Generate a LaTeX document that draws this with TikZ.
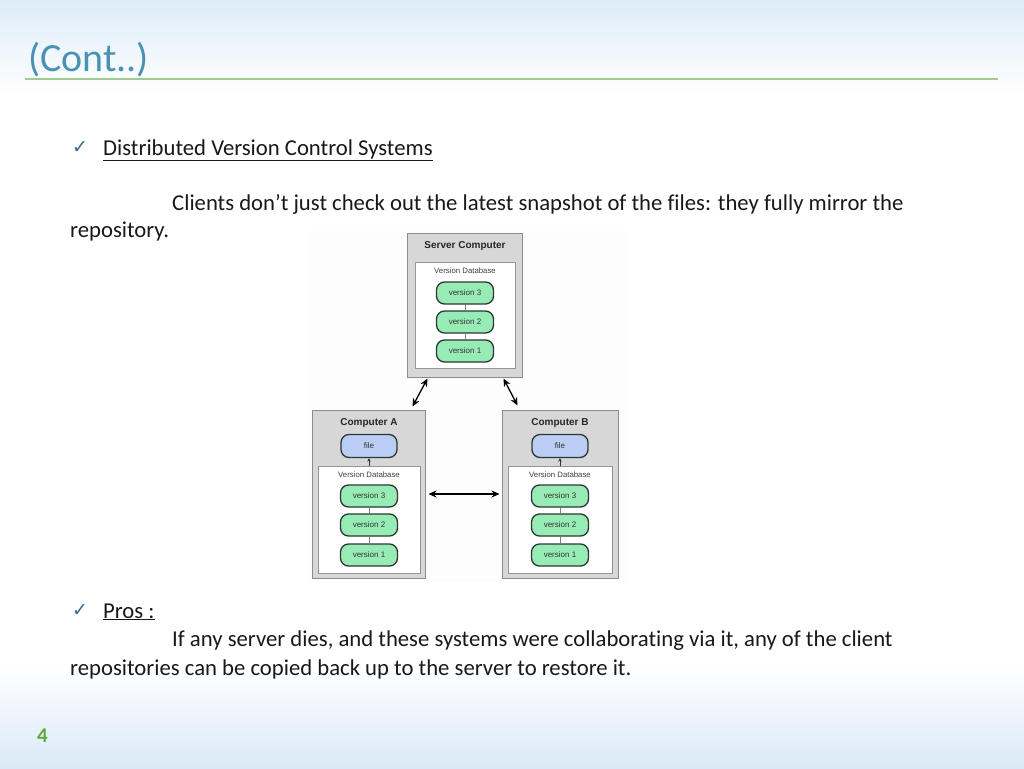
\documentclass[tikz,border=0pt]{standalone}
\usepackage{fontspec}
\setmainfont{Carlito}[Ligatures=NoCommon]
\newfontfamily\diagfont{Liberation Sans}
\newfontfamily\symfont{DejaVu Sans}
\usetikzlibrary{arrows.meta}
\definecolor{bgtop}{RGB}{221,236,248}
\definecolor{bgbot}{RGB}{218,233,247}
\definecolor{titleblue}{RGB}{74,146,180}
\definecolor{rulegreen}{RGB}{160,204,146}
\definecolor{chkblue}{RGB}{50,110,150}
\definecolor{numgreen}{RGB}{92,170,60}
\definecolor{outerfill}{RGB}{215,215,215}
\definecolor{outerdraw}{RGB}{140,140,140}
\definecolor{innerdraw}{RGB}{150,150,150}
\definecolor{verfill}{RGB}{150,236,180}
\definecolor{filefill}{RGB}{185,205,245}
\definecolor{pilldraw}{RGB}{45,55,50}
\definecolor{imgbg}{RGB}{253,253,253}
\tikzset{
  body/.style={anchor=base west, inner sep=0pt, text=black!90, font=\fontsize{22.7}{27}\selectfont},
  chk/.style={inner sep=0pt, text=chkblue, font=\symfont\fontsize{19}{22}\selectfont},
  outerbox/.style={draw=outerdraw, fill=outerfill, line width=1pt, inner sep=0pt},
  innerbox/.style={draw=innerdraw, fill=white, line width=0.8pt, inner sep=0pt},
  boxtitle/.style={inner sep=0pt, font=\diagfont\bfseries\fontsize{10}{12}\selectfont, text=black!85},
  dbtitle/.style={inner sep=0pt, font=\diagfont\fontsize{7.8}{9}\selectfont, text=black!75},
  pill/.style={draw=pilldraw, line width=1.3pt, rounded corners=8pt, minimum width=57pt, minimum height=22pt, inner sep=0pt, font=\diagfont\fontsize{8}{9}\selectfont, text=black!80},
  ver/.style={pill, fill=verfill},
  filepill/.style={pill, fill=filefill},
  vline/.style={draw=gray, line width=0.8pt},
  bigarrow/.style={draw=black, line width=1.3pt, {Stealth[length=8pt,width=7pt]}-{Stealth[length=8pt,width=7pt]}},
  smallarrow/.style={draw=black!80, line width=0.8pt, -{Stealth[length=3.5pt,width=3.5pt]}},
}
\begin{document}
\begin{tikzpicture}[x=1pt,y=-1pt]
\useasboundingbox (0,0) rectangle (1024,768);
\fill[white] (0,0) rectangle (1024,768);
\shade[top color=bgtop, bottom color=white] (0,0) rectangle (1024,95);
\shade[top color=white, bottom color=bgbot] (0,665) rectangle (1024,768);

% title
\node[anchor=base west, inner sep=0pt, text=titleblue, font=\fontsize{40}{46}\selectfont] (ttl) at (28,71) {(Cont..)};
\draw[rulegreen, line width=2pt] (25,79) -- (998,79);

% text
\node[chk] (c1) at (80,148) {✓};
\node[body] (h1) at (103,155) {\underline{Distributed Version Control Systems}};
\node[body] (p1) at (172,210) {Clients don’t just check out the latest snapshot of the files: they fully mirror the};
\node[body] (p2) at (70,237) {repository.};
\node[chk] (c2) at (80,611) {✓};
\node[body] (h2) at (103,618) {\underline{Pros :}};
\node[body] (p3) at (172,646) {If any server dies, and these systems were collaborating via it, any of the client};
\node[body] (p4) at (70,675) {repositories can be copied back up to the server to restore it.};
\node[anchor=base west, inner sep=0pt, text=numgreen, font=\bfseries\fontsize{21}{24}\selectfont] (pn) at (37,742) {4};

% diagram background
\fill[imgbg] (308,230) rectangle (626,582);

% server
\node[outerbox, minimum width=115pt, minimum height=144pt] (srv) at (464.5,305) {};
\node[innerbox, minimum width=100pt, minimum height=106pt] (sdb) at (465,315) {};
\node[boxtitle] (st) at (465,246) {Server Computer};
\node[dbtitle] (sd) at (465,271) {Version Database};
\node[ver] (s3) at (465,293) {version 3};
\node[ver] (s2) at (465,322) {version 2};
\node[ver] (s1) at (465,351) {version 1};
\draw[vline] (s3) -- (s2);
\draw[vline] (s2) -- (s1);

% computer A
\node[outerbox, minimum width=113pt, minimum height=168pt] (ca) at (368.5,494) {};
\node[innerbox, minimum width=102pt, minimum height=107pt] (adb) at (369,519.5) {};
\node[boxtitle] (at) at (369,423) {Computer A};
\node[filepill, minimum width=56pt, minimum height=23pt] (af) at (369,446) {file};
\node[dbtitle] (ad) at (369,475) {Version Database};
\node[ver] (a3) at (369,496) {version 3};
\node[ver] (a2) at (369,525) {version 2};
\node[ver] (a1) at (369,555) {version 1};
\draw[vline] (a3) -- (a2);
\draw[vline] (a2) -- (a1);
\draw[smallarrow] (adb.north) -- (af.south);

% computer B
\node[outerbox, minimum width=116pt, minimum height=168pt] (cb) at (560,494) {};
\node[innerbox, minimum width=104pt, minimum height=107pt] (bdb) at (560,519.5) {};
\node[boxtitle] (bt) at (560,423) {Computer B};
\node[filepill, minimum width=56pt, minimum height=23pt] (bf) at (560,446) {file};
\node[dbtitle] (bd) at (560,475) {Version Database};
\node[ver] (b3) at (560,496) {version 3};
\node[ver] (b2) at (560,525) {version 2};
\node[ver] (b1) at (560,555) {version 1};
\draw[vline] (b3) -- (b2);
\draw[vline] (b2) -- (b1);
\draw[smallarrow] (bdb.north) -- (bf.south);

% arrows
\draw[bigarrow] ([xshift=21pt,yshift=-1pt]srv.south west) -- ([xshift=101pt,yshift=3pt]ca.north west);
\draw[bigarrow] ([xshift=-19pt,yshift=-1pt]srv.south east) -- ([xshift=16pt,yshift=4pt]cb.north west);
\draw[bigarrow] ([xshift=3pt]ca.east) -- ([xshift=-2pt]cb.west);
\end{tikzpicture}
\end{document}
